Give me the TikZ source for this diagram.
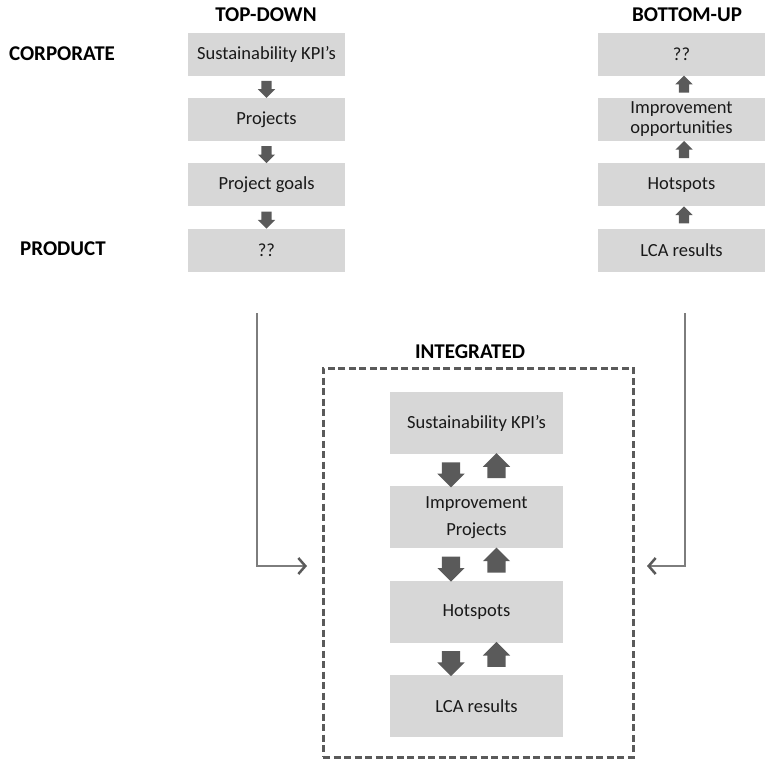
\documentclass[tikz,border=0pt]{standalone}
\usepackage{fontspec}
\setmainfont{Carlito}
\usetikzlibrary{arrows.meta, positioning, shapes.arrows, calc}

\definecolor{boxgray}{RGB}{215,215,215}
\definecolor{arrgray}{RGB}{90,90,90}
\definecolor{linegray}{RGB}{125,125,125}
\definecolor{txtgray}{RGB}{25,25,25}

\begin{document}
\begin{tikzpicture}[x=1pt, y=-1pt,
    box/.style={fill=boxgray, minimum height=43pt, text=txtgray, font=\fontsize{18.5}{20}\selectfont, align=center, inner sep=2pt},
    tdbox/.style={box, minimum width=157pt},
    bubox/.style={box, minimum width=167pt},
    ibox/.style={box, minimum width=173pt, minimum height=62pt, font=\fontsize{18.5}{27}\selectfont},
    heading/.style={text=black, font=\bfseries\fontsize{21}{24}\selectfont},
    arrbase/.style={single arrow, fill=arrgray, inner xsep=0pt, single arrow tip angle=90},
    sdown/.style={arrbase, rotate=-90, inner ysep=5pt, minimum height=17pt, single arrow head extend=3.5pt},
    sup/.style={arrbase, rotate=90, inner ysep=5pt, minimum height=17pt, single arrow head extend=3.5pt},
    bdown/.style={arrbase, rotate=-90, inner ysep=9pt, minimum height=25pt, single arrow head extend=4.5pt},
    bup/.style={arrbase, rotate=90, inner ysep=9pt, minimum height=25pt, single arrow head extend=4.5pt},
    link/.style={draw=linegray, line width=2.5pt, -{Straight Barb[length=7pt, width=16pt, color=arrgray]}},]

\useasboundingbox (0,0) rectangle (765,761);

% Headings
\node[heading] (tdhead) at (266,15) {TOP-DOWN};
\node[heading] (buhead) at (687,15) {BOTTOM-UP};
\node[heading] (corp) at (62,54) {CORPORATE};
\node[heading] (prod) at (63,249) {PRODUCT};

% Top-down column
\node[tdbox] (tdkpi) at (266.5,54) {Sustainability KPI’s};
\node[tdbox, below=22pt of tdkpi] (tdproj) {Projects};
\node[tdbox, below=22pt of tdproj] (tdgoal) {Project goals};
\node[tdbox, below=22pt of tdgoal] (tdq) {??};

\node[sdown] (tda1) at ($(tdkpi.south)!0.5!(tdproj.north)$) {};
\node[sdown] (tda2) at ($(tdproj.south)!0.5!(tdgoal.north)$) {};
\node[sdown] (tda3) at ($(tdgoal.south)!0.5!(tdq.north)$) {};

% Bottom-up column
\node[bubox] (buq) at (681.5,54) {??};
\node[bubox, below=22pt of buq] (buopp) {Improvement\\opportunities};
\node[bubox, below=22pt of buopp] (buhot) {Hotspots};
\node[bubox, below=22pt of buhot] (bulca) {LCA results};

\node[sup] (bua1) at ([xshift=2.5pt]$(buq.south)!0.5!(buopp.north)$) {};
\node[sup] (bua2) at ([xshift=2.5pt]$(buopp.south)!0.5!(buhot.north)$) {};
\node[sup] (bua3) at ([xshift=2.5pt]$(buhot.south)!0.5!(bulca.north)$) {};

% Integrated frame
\node[draw=arrgray, dash pattern=on 7pt off 3.5pt, line width=3pt, outer sep=0pt,
      minimum width=310pt, minimum height=389pt] (intframe) at (478,562.5) {};
\node[heading] (inthead) at (470,352) {INTEGRATED};

\node[ibox] (ikpi) at (476.5,423) {Sustainability KPI’s};
\node[ibox, below=32pt of ikpi] (iproj) {Improvement\\Projects};
\node[ibox, below=32pt of iproj] (ihot) {Hotspots};
\node[ibox, below=32pt of ihot] (ilca) {LCA results};

\foreach \a/\b/\n in {ikpi/iproj/1, iproj/ihot/2, ihot/ilca/3} {
    \node[bdown] (idn\n) at ([xshift=-25.5pt]$(\a.south)!0.5!(\b.north)$) {};
    \node[bup] (iup\n) at ([xshift=20pt]$(\a.south)!0.5!(\b.north)$) {};
}

% Connectors into the frame
\coordinate (tdstart) at ([xshift=-9.5pt, yshift=-41.5pt]tdq.south);
\coordinate (bustart) at ([xshift=3.5pt, yshift=-41.5pt]bulca.south);
\draw[link] (tdstart) |- ([xshift=-16pt, yshift=-3.5pt]intframe.west);
\draw[link] (bustart) |- ([xshift=14pt, yshift=-3.5pt]intframe.east);

\end{tikzpicture}
\end{document}
